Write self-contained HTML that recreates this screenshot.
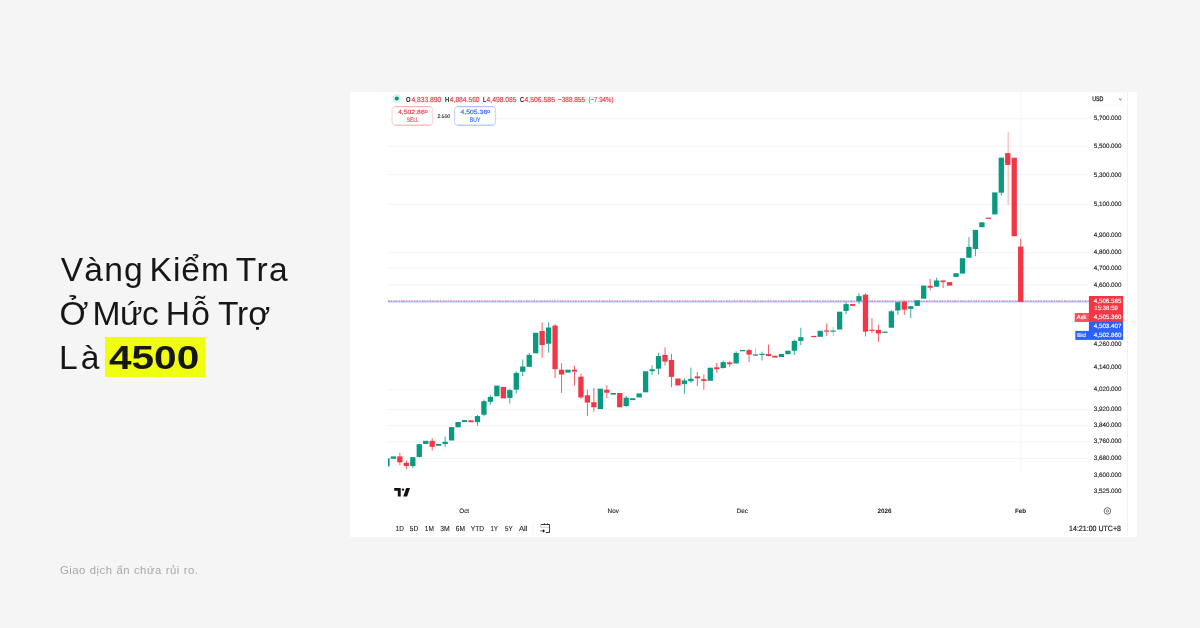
<!DOCTYPE html>
<html lang="vi">
<head>
<meta charset="utf-8">
<title>Vàng Kiểm Tra Ở Mức Hỗ Trợ Là 4500</title>
<style>
html,body{margin:0;padding:0;}
body{width:1200px;height:628px;background:#f5f5f5;position:relative;overflow:hidden;font-family:"Liberation Sans",sans-serif;}
.title{position:absolute;left:0;top:0;margin:0;font-weight:400;font-size:33.6px;line-height:44px;color:#161616;white-space:nowrap;}
.title span{position:absolute;display:block;height:44px;}
.title .hl{background:#efff0f;left:104.9px;top:337.2px;width:99.8px;height:39.4px;}
.title b{position:absolute;display:block;font-weight:700;transform-origin:0 50%;}
.foot{position:absolute;left:60px;top:562.2px;margin:0;font-size:11.3px;line-height:16px;color:#a8a8a8;white-space:nowrap;letter-spacing:0.5px;word-spacing:0.3px;}
.chart{position:absolute;left:350px;top:92px;width:787px;height:444.5px;background:#fff;overflow:hidden;}
.chart svg{position:absolute;left:0;top:0;}
.chart text{font-family:"Liberation Sans",sans-serif;text-rendering:geometricPrecision;}
</style>
</head>
<body>
<h1 class="title"><span style="left:60.7px;top:247.5px;letter-spacing:1.20px">Vàng</span> <span style="left:149.6px;top:247.5px;letter-spacing:0.93px">Kiểm</span> <span style="left:235.7px;top:247.5px;letter-spacing:1.45px">Tra</span> <span style="left:59.5px;top:291.7px;letter-spacing:0.00px">Ở</span> <span style="left:92.4px;top:291.7px;letter-spacing:-0.45px">Mức</span> <span style="left:165.7px;top:291.7px;letter-spacing:1.30px">Hỗ</span> <span style="left:218.0px;top:291.7px;letter-spacing:-0.15px">Trợ</span> <span style="left:59.0px;top:335.9px;letter-spacing:3.00px">Là</span> <span class="hl"></span> <b style="left:108.6px;top:335.9px;transform:scaleX(1.208)">4500</b></h1>
<p class="foot">Giao dịch ẩn chứa rủi ro.</p>
<div class="chart">
<svg width="787" height="444.5" viewBox="350 92 787 444.5">
<g id="grid">
<rect x="388" y="118.3" width="700.5" height="1" fill="#f4f4f6"/>
<rect x="388" y="145.8" width="700.5" height="1" fill="#f4f4f6"/>
<rect x="388" y="174.10000000000002" width="700.5" height="1" fill="#f4f4f6"/>
<rect x="388" y="203.8" width="700.5" height="1" fill="#f4f4f6"/>
<rect x="388" y="252.10000000000002" width="700.5" height="1" fill="#f4f4f6"/>
<rect x="388" y="267.3" width="700.5" height="1" fill="#f4f4f6"/>
<rect x="388" y="284.5" width="700.5" height="1" fill="#f4f4f6"/>
<rect x="388" y="389.3" width="700.5" height="1" fill="#f4f4f6"/>
<rect x="388" y="409.1" width="700.5" height="1" fill="#f4f4f6"/>
<rect x="388" y="425.1" width="700.5" height="1" fill="#f4f4f6"/>
<rect x="388" y="441.5" width="700.5" height="1" fill="#f4f4f6"/>
<rect x="388" y="458.0" width="700.5" height="1" fill="#f4f4f6"/>
<rect x="1020.3" y="92" width="1" height="380.7" fill="#f6f6f8"/>
<rect x="1127.1" y="92" width="1" height="444.5" fill="#f0f1f3"/>
</g>
<g id="pline">
<rect x="388" y="301.35" width="700.9" height="1" fill="#2962FF" opacity="0.5"/>
<line x1="388" y1="300.9" x2="1088.9" y2="300.9" stroke="#F23645" stroke-width="0.9" stroke-dasharray="1.4 1.2" opacity="0.7"/>
<line x1="388" y1="301.1" x2="1088.9" y2="301.1" stroke="#2962FF" stroke-width="0.9" stroke-dasharray="2.1 1.6 0.9 2.3" opacity="0.35"/>
</g>
<g id="candles">
<rect x="388" y="458.3" width="1.6" height="8.1" fill="#089981"/>
<rect x="390.75" y="456.4" width="5.3" height="2.4" fill="#089981"/>
<rect x="399.37" y="452.9" width="1" height="12.3" fill="#F23645" opacity="0.8"/>
<rect x="397.22" y="456.4" width="5.3" height="5.9" fill="#F23645"/>
<rect x="405.83" y="460.4" width="1" height="9.1" fill="#F23645" opacity="0.8"/>
<rect x="403.68" y="462.8" width="5.3" height="3.2" fill="#F23645"/>
<rect x="412.30" y="457.2" width="1" height="11.1" fill="#089981" opacity="0.8"/>
<rect x="410.15" y="457.2" width="5.3" height="8.8" fill="#089981"/>
<rect x="418.77" y="443.7" width="1" height="14.0" fill="#089981" opacity="0.8"/>
<rect x="416.62" y="444.2" width="5.3" height="12.7" fill="#089981"/>
<rect x="423.08" y="440.8" width="5.3" height="3.2" fill="#089981"/>
<rect x="431.70" y="438.1" width="1" height="12.4" fill="#F23645" opacity="0.8"/>
<rect x="429.55" y="440.8" width="5.3" height="6.0" fill="#F23645"/>
<rect x="436.02" y="444.0" width="5.3" height="1.8" fill="#089981"/>
<rect x="444.64" y="436.5" width="1" height="10.3" fill="#089981" opacity="0.8"/>
<rect x="442.49" y="441.8" width="5.3" height="2.2" fill="#089981"/>
<rect x="448.95" y="427.1" width="5.3" height="13.4" fill="#089981"/>
<rect x="455.42" y="422.0" width="5.3" height="5.3" fill="#089981"/>
<rect x="461.89" y="420.1" width="5.3" height="1.9" fill="#089981"/>
<rect x="468.35" y="420.3" width="5.3" height="1.9" fill="#F23645"/>
<rect x="476.97" y="415.0" width="1" height="10.7" fill="#089981" opacity="0.8"/>
<rect x="474.82" y="416.1" width="5.3" height="6.0" fill="#089981"/>
<rect x="483.44" y="399.6" width="1" height="16.7" fill="#089981" opacity="0.8"/>
<rect x="481.29" y="401.2" width="5.3" height="13.5" fill="#089981"/>
<rect x="489.90" y="395.1" width="1" height="9.6" fill="#089981" opacity="0.8"/>
<rect x="487.75" y="396.9" width="5.3" height="4.9" fill="#089981"/>
<rect x="494.22" y="385.6" width="5.3" height="10.7" fill="#089981"/>
<rect x="500.69" y="386.9" width="5.3" height="11.5" fill="#F23645"/>
<rect x="509.31" y="388.8" width="1" height="14.8" fill="#089981" opacity="0.8"/>
<rect x="507.16" y="390.1" width="5.3" height="7.8" fill="#089981"/>
<rect x="515.77" y="371.3" width="1" height="22.3" fill="#089981" opacity="0.8"/>
<rect x="513.62" y="372.9" width="5.3" height="16.7" fill="#089981"/>
<rect x="522.24" y="359.4" width="1" height="16.7" fill="#089981" opacity="0.8"/>
<rect x="520.09" y="366.5" width="5.3" height="5.3" fill="#089981"/>
<rect x="528.71" y="353.0" width="1" height="13.9" fill="#089981" opacity="0.8"/>
<rect x="526.56" y="354.9" width="5.3" height="11.9" fill="#089981"/>
<rect x="533.02" y="332.8" width="5.3" height="20.5" fill="#089981"/>
<rect x="541.64" y="322.4" width="1" height="35.3" fill="#F23645" opacity="0.8"/>
<rect x="539.49" y="331.0" width="5.3" height="14.0" fill="#F23645"/>
<rect x="548.11" y="322.4" width="1" height="30.2" fill="#089981" opacity="0.8"/>
<rect x="545.96" y="327.5" width="5.3" height="16.2" fill="#089981"/>
<rect x="554.57" y="324.3" width="1" height="53.8" fill="#F23645" opacity="0.8"/>
<rect x="552.42" y="325.6" width="5.3" height="43.6" fill="#F23645"/>
<rect x="561.04" y="363.3" width="1" height="29.5" fill="#F23645" opacity="0.8"/>
<rect x="558.89" y="369.7" width="5.3" height="4.8" fill="#F23645"/>
<rect x="565.36" y="369.7" width="5.3" height="2.9" fill="#089981"/>
<rect x="573.98" y="365.7" width="1" height="19.9" fill="#F23645" opacity="0.8"/>
<rect x="571.83" y="369.7" width="5.3" height="1.9" fill="#F23645"/>
<rect x="580.44" y="373.5" width="1" height="25.5" fill="#F23645" opacity="0.8"/>
<rect x="578.29" y="376.7" width="5.3" height="20.7" fill="#F23645"/>
<rect x="586.91" y="389.5" width="1" height="26.3" fill="#F23645" opacity="0.8"/>
<rect x="584.76" y="395.3" width="5.3" height="7.3" fill="#F23645"/>
<rect x="593.38" y="387.9" width="1" height="23.9" fill="#F23645" opacity="0.8"/>
<rect x="591.23" y="402.2" width="5.3" height="5.1" fill="#F23645"/>
<rect x="597.69" y="388.7" width="5.3" height="20.4" fill="#089981"/>
<rect x="606.31" y="385.2" width="1" height="13.1" fill="#F23645" opacity="0.8"/>
<rect x="604.16" y="389.8" width="5.3" height="2.9" fill="#F23645"/>
<rect x="610.63" y="393.0" width="5.3" height="1.6" fill="#089981"/>
<rect x="617.10" y="393.0" width="5.3" height="14.3" fill="#F23645"/>
<rect x="625.71" y="395.8" width="1" height="11.1" fill="#089981" opacity="0.8"/>
<rect x="623.56" y="397.7" width="5.3" height="8.4" fill="#089981"/>
<rect x="630.03" y="398.2" width="5.3" height="1.9" fill="#089981"/>
<rect x="636.50" y="393.4" width="5.3" height="4.0" fill="#089981"/>
<rect x="642.96" y="371.3" width="5.3" height="21.0" fill="#089981"/>
<rect x="651.58" y="365.3" width="1" height="9.6" fill="#089981" opacity="0.8"/>
<rect x="649.43" y="369.3" width="5.3" height="1.9" fill="#089981"/>
<rect x="658.05" y="352.9" width="1" height="21.7" fill="#089981" opacity="0.8"/>
<rect x="655.90" y="356.0" width="5.3" height="12.7" fill="#089981"/>
<rect x="664.51" y="347.4" width="1" height="18.1" fill="#F23645" opacity="0.8"/>
<rect x="662.36" y="354.9" width="5.3" height="6.7" fill="#F23645"/>
<rect x="670.98" y="353.8" width="1" height="33.4" fill="#F23645" opacity="0.8"/>
<rect x="668.83" y="360.0" width="5.3" height="16.9" fill="#F23645"/>
<rect x="675.30" y="378.5" width="5.3" height="7.0" fill="#F23645"/>
<rect x="683.91" y="378.3" width="1" height="15.6" fill="#089981" opacity="0.8"/>
<rect x="681.76" y="380.4" width="5.3" height="3.5" fill="#089981"/>
<rect x="690.38" y="367.7" width="1" height="15.1" fill="#089981" opacity="0.8"/>
<rect x="688.23" y="378.8" width="5.3" height="2.4" fill="#089981"/>
<rect x="696.85" y="372.0" width="1" height="14.0" fill="#F23645" opacity="0.8"/>
<rect x="694.70" y="376.4" width="5.3" height="1.9" fill="#F23645"/>
<rect x="703.32" y="374.5" width="1" height="15.1" fill="#F23645" opacity="0.8"/>
<rect x="701.17" y="379.1" width="5.3" height="1.8" fill="#F23645"/>
<rect x="707.63" y="367.7" width="5.3" height="13.1" fill="#089981"/>
<rect x="716.25" y="362.9" width="1" height="10.0" fill="#F23645" opacity="0.8"/>
<rect x="714.10" y="367.3" width="5.3" height="1.9" fill="#F23645"/>
<rect x="722.72" y="360.5" width="1" height="8.0" fill="#089981" opacity="0.8"/>
<rect x="720.57" y="362.1" width="5.3" height="5.9" fill="#089981"/>
<rect x="729.18" y="361.3" width="1" height="5.6" fill="#F23645" opacity="0.8"/>
<rect x="727.03" y="362.4" width="5.3" height="1.8" fill="#F23645"/>
<rect x="735.65" y="351.3" width="1" height="12.4" fill="#089981" opacity="0.8"/>
<rect x="733.50" y="352.9" width="5.3" height="10.5" fill="#089981"/>
<rect x="739.97" y="350.0" width="5.3" height="1.3" fill="#089981"/>
<rect x="748.59" y="349.0" width="1" height="13.1" fill="#F23645" opacity="0.8"/>
<rect x="746.44" y="350.1" width="5.3" height="4.5" fill="#F23645"/>
<rect x="755.05" y="348.1" width="1" height="7.6" fill="#089981" opacity="0.42"/>
<rect x="752.90" y="354.4" width="5.3" height="1.3" fill="#089981"/>
<rect x="761.52" y="351.7" width="1" height="8.8" fill="#089981" opacity="0.8"/>
<rect x="759.37" y="353.8" width="5.3" height="1.2" fill="#089981"/>
<rect x="767.99" y="344.6" width="1" height="11.9" fill="#F23645" opacity="0.8"/>
<rect x="765.84" y="354.1" width="5.3" height="1.9" fill="#F23645"/>
<rect x="772.30" y="355.7" width="5.3" height="1.9" fill="#F23645"/>
<rect x="778.77" y="353.9" width="5.3" height="3.2" fill="#089981"/>
<rect x="785.24" y="350.7" width="5.3" height="3.5" fill="#089981"/>
<rect x="793.85" y="339.6" width="1" height="15.4" fill="#089981" opacity="0.8"/>
<rect x="791.70" y="340.9" width="5.3" height="9.9" fill="#089981"/>
<rect x="800.32" y="327.7" width="1" height="17.5" fill="#089981" opacity="0.8"/>
<rect x="798.17" y="337.2" width="5.3" height="3.7" fill="#089981"/>
<rect x="811.10" y="335.9" width="5.3" height="1.2" fill="#F23645"/>
<rect x="817.57" y="330.8" width="5.3" height="6.0" fill="#089981"/>
<rect x="826.19" y="323.4" width="1" height="12.7" fill="#F23645" opacity="0.8"/>
<rect x="824.04" y="330.4" width="5.3" height="1.2" fill="#F23645"/>
<rect x="832.66" y="326.9" width="1" height="9.2" fill="#089981" opacity="0.42"/>
<rect x="830.51" y="330.5" width="5.3" height="1.2" fill="#089981"/>
<rect x="836.97" y="311.7" width="5.3" height="17.8" fill="#089981"/>
<rect x="845.59" y="302.2" width="1" height="11.9" fill="#089981" opacity="0.8"/>
<rect x="843.44" y="304.1" width="5.3" height="6.8" fill="#089981"/>
<rect x="849.91" y="304.1" width="5.3" height="1.8" fill="#F23645"/>
<rect x="858.52" y="293.1" width="1" height="10.7" fill="#089981" opacity="0.8"/>
<rect x="856.37" y="296.1" width="5.3" height="4.9" fill="#089981"/>
<rect x="864.99" y="293.4" width="1" height="43.0" fill="#F23645" opacity="0.8"/>
<rect x="862.84" y="294.7" width="5.3" height="36.9" fill="#F23645"/>
<rect x="871.46" y="318.1" width="1" height="14.8" fill="#F23645" opacity="0.8"/>
<rect x="869.31" y="329.7" width="5.3" height="1.2" fill="#F23645"/>
<rect x="877.92" y="324.5" width="1" height="17.5" fill="#F23645" opacity="0.8"/>
<rect x="875.77" y="330.0" width="5.3" height="3.5" fill="#F23645"/>
<rect x="882.24" y="331.6" width="5.3" height="1.3" fill="#089981"/>
<rect x="890.86" y="310.1" width="1" height="17.5" fill="#089981" opacity="0.8"/>
<rect x="888.71" y="311.3" width="5.3" height="16.4" fill="#089981"/>
<rect x="897.33" y="302.2" width="1" height="12.7" fill="#089981" opacity="0.8"/>
<rect x="895.18" y="302.2" width="5.3" height="8.3" fill="#089981"/>
<rect x="903.79" y="300.6" width="1" height="14.3" fill="#F23645" opacity="0.8"/>
<rect x="901.64" y="301.7" width="5.3" height="8.0" fill="#F23645"/>
<rect x="910.26" y="306.2" width="1" height="11.9" fill="#089981" opacity="0.8"/>
<rect x="908.11" y="306.2" width="5.3" height="2.7" fill="#089981"/>
<rect x="914.58" y="300.3" width="5.3" height="5.6" fill="#089981"/>
<rect x="921.04" y="285.6" width="5.3" height="13.1" fill="#089981"/>
<rect x="929.66" y="278.8" width="1" height="11.6" fill="#F23645" opacity="0.8"/>
<rect x="927.51" y="285.8" width="5.3" height="1.9" fill="#F23645"/>
<rect x="936.13" y="277.7" width="1" height="9.1" fill="#089981" opacity="0.8"/>
<rect x="933.98" y="280.5" width="5.3" height="6.2" fill="#089981"/>
<rect x="942.59" y="280.5" width="1" height="7.5" fill="#F23645" opacity="0.8"/>
<rect x="940.44" y="280.5" width="5.3" height="1.6" fill="#F23645"/>
<rect x="946.91" y="282.1" width="5.3" height="3.5" fill="#F23645"/>
<rect x="953.38" y="273.2" width="5.3" height="3.7" fill="#089981"/>
<rect x="959.85" y="258.2" width="5.3" height="15.4" fill="#089981"/>
<rect x="968.46" y="237.1" width="1" height="20.7" fill="#089981" opacity="0.8"/>
<rect x="966.31" y="246.9" width="5.3" height="10.8" fill="#089981"/>
<rect x="974.93" y="229.9" width="1" height="26.3" fill="#089981" opacity="0.8"/>
<rect x="972.78" y="229.9" width="5.3" height="19.1" fill="#089981"/>
<rect x="979.25" y="222.3" width="5.3" height="4.9" fill="#089981"/>
<rect x="985.71" y="217.6" width="5.3" height="1.2" fill="#F23645"/>
<rect x="992.18" y="192.4" width="5.3" height="22.0" fill="#089981"/>
<rect x="1000.80" y="157.7" width="1" height="37.9" fill="#089981" opacity="0.8"/>
<rect x="998.65" y="157.7" width="5.3" height="35.0" fill="#089981"/>
<rect x="1007.66" y="131.9" width="1" height="73.2" fill="#F23645" opacity="0.42"/>
<rect x="1005.12" y="153.1" width="5.3" height="11.8" fill="#F23645"/>
<rect x="1011.58" y="157.7" width="5.3" height="78.5" fill="#F23645"/>
<rect x="1020.20" y="238.7" width="1" height="63.2" fill="#F23645" opacity="0.8"/>
<rect x="1018.05" y="246.6" width="5.3" height="55.2" fill="#F23645"/>
</g>
<g id="header" font-size="7.6" fill="#15171c">
<circle cx="396.8" cy="98.5" r="4.4" fill="#089981" opacity="0.15"/>
<circle cx="396.8" cy="98.5" r="2.1" fill="#089981"/>
<g font-size="7.3" stroke="#F23645" stroke-width="0.16">
<text x="406" y="101.5" font-weight="700" stroke="none" textLength="4.6" lengthAdjust="spacingAndGlyphs">O</text>
<text x="411.4" y="101.5" fill="#F23645" textLength="29.8" lengthAdjust="spacingAndGlyphs">4,833.890</text>
<text x="444.9" y="101.5" font-weight="700" stroke="none" textLength="4.2" lengthAdjust="spacingAndGlyphs">H</text>
<text x="449.8" y="101.5" fill="#F23645" textLength="29.8" lengthAdjust="spacingAndGlyphs">4,884.560</text>
<text x="483" y="101.5" font-weight="700" stroke="none" textLength="3.2" lengthAdjust="spacingAndGlyphs">L</text>
<text x="486.6" y="101.5" fill="#F23645" textLength="29.9" lengthAdjust="spacingAndGlyphs">4,498.085</text>
<text x="520" y="101.5" font-weight="700" stroke="none" textLength="4.1" lengthAdjust="spacingAndGlyphs">C</text>
<text x="524.5" y="101.5" fill="#F23645" textLength="30.5" lengthAdjust="spacingAndGlyphs">4,506.585</text>
<text x="558" y="101.5" fill="#F23645" textLength="27" lengthAdjust="spacingAndGlyphs">−388.855</text>
<text x="588.5" y="101.5" fill="#F23645" textLength="25" lengthAdjust="spacingAndGlyphs">(−7.94%)</text>
</g>
<rect x="392.1" y="106.7" width="40.6" height="18.5" rx="3" fill="#fff" stroke="#F23645" stroke-width="0.7" stroke-opacity="0.32"/>
<path d="M394.6 106.7 h35.6 M394.6 125.2 h35.6" stroke="#F23645" stroke-width="0.7" stroke-opacity="0.4" fill="none"/>
<text x="398" y="114.3" font-size="6.1" fill="#F23645" stroke="#F23645" stroke-width="0.15" textLength="29.6" lengthAdjust="spacingAndGlyphs">4,502.86<tspan font-size="4.6" dy="-1.3">0</tspan></text>
<text x="406.7" y="122" font-size="6.4" fill="#F23645" stroke="#F23645" stroke-width="0.1" textLength="12" lengthAdjust="spacingAndGlyphs">SELL</text>
<text x="437.4" y="118.3" font-size="5.2" fill="#15171c" stroke="#15171c" stroke-width="0.12" font-style="italic" textLength="12.6" lengthAdjust="spacingAndGlyphs">2.500</text>
<rect x="454.6" y="106.7" width="41" height="18.5" rx="3" fill="#fff" stroke="#2962FF" stroke-width="0.7" stroke-opacity="0.4"/>
<path d="M457 106.7 h36 M457 125.2 h36" stroke="#2962FF" stroke-width="0.7" stroke-opacity="0.35" fill="none"/>
<text x="460.5" y="114.3" font-size="6.1" fill="#2962FF" stroke="#2962FF" stroke-width="0.15" textLength="29.6" lengthAdjust="spacingAndGlyphs">4,505.36<tspan font-size="4.6" dy="-1.3">0</tspan></text>
<text x="469.8" y="122" font-size="6.4" fill="#2962FF" stroke="#2962FF" stroke-width="0.1" textLength="10.6" lengthAdjust="spacingAndGlyphs">BUY</text>
</g>
<g id="axis" font-size="6.3" fill="#15171c" stroke="#15171c" stroke-width="0.12">
<rect x="1090.6" y="93" width="33.4" height="12" rx="1.5" fill="#fff" stroke="#f4f5f7" stroke-width="0.6"/>
<text x="1092.2" y="101.3" font-size="6.6" textLength="11.2" lengthAdjust="spacingAndGlyphs" stroke-width="0.25">USD</text>
<path d="M1119.2 98.8 l1.2 1.1 l1.2 -1.1" fill="none" stroke="#15171c" stroke-width="0.8"/>
<text x="1093.7" y="120.00" textLength="27.9" lengthAdjust="spacingAndGlyphs">5,700.000</text>
<text x="1093.7" y="147.70" textLength="27.9" lengthAdjust="spacingAndGlyphs">5,500.000</text>
<text x="1093.7" y="176.60" textLength="27.9" lengthAdjust="spacingAndGlyphs">5,300.000</text>
<text x="1093.7" y="205.90" textLength="27.9" lengthAdjust="spacingAndGlyphs">5,100.000</text>
<text x="1093.7" y="237.30" textLength="27.9" lengthAdjust="spacingAndGlyphs">4,900.000</text>
<text x="1093.7" y="253.70" textLength="27.9" lengthAdjust="spacingAndGlyphs">4,800.000</text>
<text x="1093.7" y="269.60" textLength="27.9" lengthAdjust="spacingAndGlyphs">4,700.000</text>
<text x="1093.7" y="286.60" textLength="27.9" lengthAdjust="spacingAndGlyphs">4,600.000</text>
<text x="1093.7" y="346.00" textLength="27.9" lengthAdjust="spacingAndGlyphs">4,260.000</text>
<text x="1093.7" y="368.60" textLength="27.9" lengthAdjust="spacingAndGlyphs">4,140.000</text>
<text x="1093.7" y="391.40" textLength="27.9" lengthAdjust="spacingAndGlyphs">4,020.000</text>
<text x="1093.7" y="411.00" textLength="27.9" lengthAdjust="spacingAndGlyphs">3,920.000</text>
<text x="1093.7" y="427.30" textLength="27.9" lengthAdjust="spacingAndGlyphs">3,840.000</text>
<text x="1093.7" y="443.20" textLength="27.9" lengthAdjust="spacingAndGlyphs">3,760.000</text>
<text x="1093.7" y="459.70" textLength="27.9" lengthAdjust="spacingAndGlyphs">3,680.000</text>
<text x="1093.7" y="477.00" textLength="27.9" lengthAdjust="spacingAndGlyphs">3,600.000</text>
<text x="1093.7" y="493.40" textLength="27.9" lengthAdjust="spacingAndGlyphs">3,525.000</text>
</g>
<g id="tags" font-size="6.2" fill="#fff" stroke="#fff" stroke-width="0.14">
<rect x="1088.9" y="296" width="34.2" height="26" fill="#F23645" stroke="none"/>
<rect x="1074.7" y="313" width="14.3" height="9" fill="#F23645" opacity="0.85" stroke="none"/>
<rect x="1088.9" y="322" width="34.2" height="17.9" fill="#2962FF" stroke="none"/>
<rect x="1075.3" y="330.9" width="13.7" height="9" fill="#2962FF" stroke="none"/>
<text x="1093.8" y="302.9" textLength="27.6" lengthAdjust="spacingAndGlyphs">4,506.585</text>
<text x="1094.3" y="310.1" textLength="23.6" lengthAdjust="spacingAndGlyphs" opacity="0.9">15:38:59</text>
<text x="1093.8" y="318.8" textLength="27.6" lengthAdjust="spacingAndGlyphs">4,505.360</text>
<text x="1093.8" y="328.2" textLength="27.6" lengthAdjust="spacingAndGlyphs">4,503.407</text>
<text x="1093.8" y="337.2" textLength="27.6" lengthAdjust="spacingAndGlyphs">4,502.860</text>
<text x="1076.8" y="319.2" font-size="5.8" textLength="9.6" lengthAdjust="spacingAndGlyphs" opacity="0.95">Ask</text>
<text x="1077" y="337.3" font-size="5.8" textLength="9" lengthAdjust="spacingAndGlyphs" opacity="0.9">Bid</text>
</g>
<g id="time" font-size="6.3" fill="#15171c" text-anchor="middle" stroke="#15171c" stroke-width="0.1">
<text x="464.2" y="512.8">Oct</text>
<text x="613.2" y="512.8">Nov</text>
<text x="742.3" y="512.8">Dec</text>
<text x="884.6" y="512.8" font-weight="700" stroke="none">2026</text>
<text x="1020.6" y="512.8" font-weight="700" stroke="none">Feb</text>
</g>
<g id="toolbar" font-size="7.3" fill="#15171c" stroke="#15171c" stroke-width="0.1">
<text x="395.6" y="531.2" textLength="8.2" lengthAdjust="spacingAndGlyphs">1D</text>
<text x="409.8" y="531.2" textLength="8.4" lengthAdjust="spacingAndGlyphs">5D</text>
<text x="424.8" y="531.2" textLength="9" lengthAdjust="spacingAndGlyphs">1M</text>
<text x="440.2" y="531.2" textLength="9.5" lengthAdjust="spacingAndGlyphs">3M</text>
<text x="455.8" y="531.2" textLength="9.2" lengthAdjust="spacingAndGlyphs">6M</text>
<text x="470.8" y="531.2" textLength="13.2" lengthAdjust="spacingAndGlyphs">YTD</text>
<text x="490.8" y="531.2" textLength="7" lengthAdjust="spacingAndGlyphs">1Y</text>
<text x="505" y="531.2" textLength="7.6" lengthAdjust="spacingAndGlyphs">5Y</text>
<text x="519" y="531.2" textLength="8.5" lengthAdjust="spacingAndGlyphs">All</text>
<rect x="532.5" y="522.2" width="0.7" height="12.4" fill="#eef0f3" stroke="none"/>
<g fill="none" stroke="#15171c">
<path d="M540.9 524.5 h8.6 v8 h-3.7" stroke-width="0.85"/>
<path d="M540.6 524.5 v2.7 h8.9" stroke-width="0.7" opacity="0.35"/>
<path d="M544.3 523.2 v1.3 M547.6 523.2 v1.3" stroke-width="0.8"/>
<path d="M540.4 530.9 h4.2" stroke-width="0.8"/>
<path d="M543 529.4 l1.7 1.5 l-1.7 1.5 z" fill="#15171c" stroke-width="0.3"/>
</g>
<text x="1069.1" y="531.4" font-size="7.7" textLength="51.8" lengthAdjust="spacingAndGlyphs" stroke-width="0.18">14:21:00 UTC+8</text>
<circle cx="1107.4" cy="511" r="3.3" fill="none" stroke="#15171c" stroke-width="0.6"/>
<circle cx="1107.4" cy="511" r="1.2" fill="none" stroke="#15171c" stroke-width="0.5"/>
</g>
<g id="logo" fill="#111">
<path d="M394.2 488.1 h6.5 v8.4 h-2.9 v-5.7 h-3.6 z"/>
<circle cx="403" cy="489.6" r="1.2"/>
<path d="M406.2 488.1 h3.8 l-2.9 8.4 h-3.8 z"/>
</g>
</svg>
</div>
</body>
</html>
